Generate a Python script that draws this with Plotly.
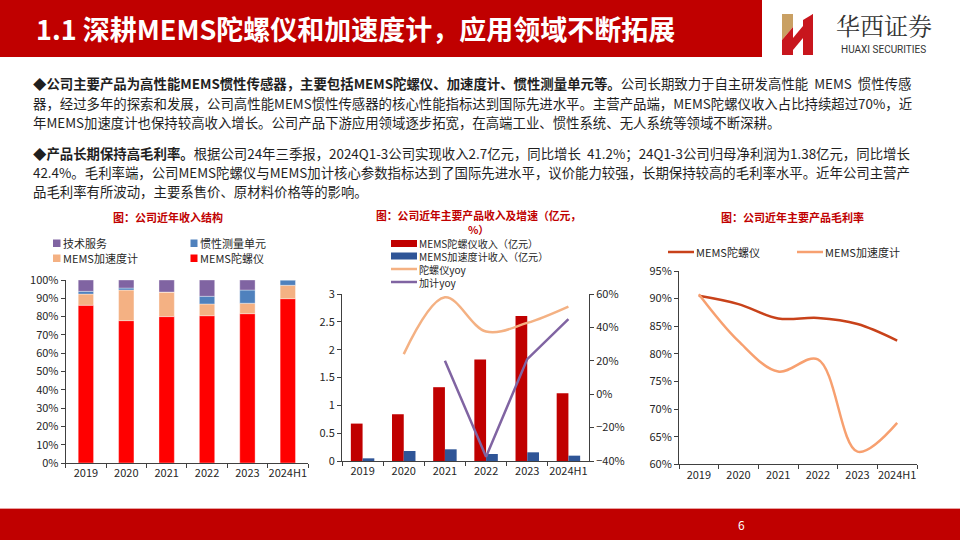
import plotly.graph_objects as go

# ---------------- data ----------------
years = ["2019", "2020", "2021", "2022", "2023", "2024H1"]

# revenue structure (share)
share_gyro = [0.862, 0.778, 0.800, 0.805, 0.816, 0.898]
share_accel = [0.061, 0.167, 0.134, 0.064, 0.057, 0.073]
share_imu = [0.015, 0.011, 0.000, 0.042, 0.072, 0.029]
share_tech = [0.062, 0.044, 0.066, 0.089, 0.055, 0.000]

# revenue (亿元) and yoy
rev_gyro = [0.672, 0.84, 1.326, 1.824, 2.604, 1.218]
rev_accel = [0.048, 0.18, 0.21, 0.126, 0.156, 0.096]
yoy_gyro = [None, 0.24, 0.58, 0.375, 0.427, 0.525]
yoy_accel = [None, None, 0.20, -0.374, 0.21, 0.45]

# gross margin
gm_gyro = [0.905, 0.890, 0.864, 0.865, 0.854, 0.824]
gm_accel = [0.908, 0.823, 0.768, 0.790, 0.623, 0.675]

# ---------------- helpers ----------------
W, H = 960, 540
def X(px):
    return px / W
def Y(py):
    return 1 - py / H

FONT = "Noto Sans CJK SC, Noto Sans, sans-serif"
TXT = "#262626"
AX = "#404040"
DARKRED = "#C00000"

C_TECH, C_IMU, C_ACC, C_GYR = "#8064A2", "#4F81BD", "#F4B183", "#FF0000"
C_BAR_G, C_BAR_A = "#C00000", "#2F5597"
C_YOY_G, C_YOY_A = "#F4B183", "#8064A2"
C_GM_G, C_GM_A = "#C8421A", "#F7A070"

fig = go.Figure()

# ---------------- left chart: stacked share ----------------
base_accel = share_gyro
base_imu = [a + b for a, b in zip(share_gyro, share_accel)]
base_tech = [a + b for a, b in zip(base_imu, share_imu)]
for name, vals, base, col in [
    ("MEMS陀螺仪", share_gyro, [0] * 6, C_GYR),
    ("MEMS加速度计", share_accel, base_accel, C_ACC),
    ("惯性测量单元", share_imu, base_imu, C_IMU),
    ("技术服务", share_tech, base_tech, C_TECH),
]:
    fig.add_trace(go.Bar(x=years, y=vals, base=base, name=name, marker_color=col,
                         marker_line=dict(width=0.6, color="rgba(255,255,255,0.6)"),
                         width=0.38, xaxis="x", yaxis="y"))

# ---------------- middle chart ----------------
fig.add_trace(go.Bar(x=years, y=rev_gyro, name="MEMS陀螺仪收入（亿元）", marker_color=C_BAR_G,
                     width=0.285, offset=-0.285, xaxis="x2", yaxis="y2"))
fig.add_trace(go.Bar(x=years, y=rev_accel, name="MEMS加速度计收入（亿元）", marker_color=C_BAR_A,
                     width=0.285, offset=0.0, xaxis="x2", yaxis="y2"))
fig.add_trace(go.Scatter(x=years, y=yoy_gyro, name="陀螺仪yoy", mode="lines",
                         line=dict(color=C_YOY_G, width=2.5, shape="spline", smoothing=1.0),
                         xaxis="x2", yaxis="y3"))
fig.add_trace(go.Scatter(x=years, y=yoy_accel, name="加计yoy", mode="lines",
                         line=dict(color=C_YOY_A, width=2.5),
                         xaxis="x2", yaxis="y3"))

# ---------------- right chart ----------------
fig.add_trace(go.Scatter(x=years, y=gm_gyro, name="MEMS陀螺仪", mode="lines",
                         line=dict(color=C_GM_G, width=2.5, shape="spline", smoothing=1.0),
                         xaxis="x3", yaxis="y4"))
fig.add_trace(go.Scatter(x=years, y=gm_accel, name="MEMS加速度计", mode="lines",
                         line=dict(color=C_GM_A, width=2.5, shape="spline", smoothing=1.0),
                         xaxis="x3", yaxis="y4"))

tick_font = dict(family=FONT, size=11, color=TXT)
xcommon = dict(type="category", range=[-0.5, len(years) - 0.5], showline=True, linecolor=AX,
               linewidth=1, ticks="outside", tickson="boundaries", ticklen=4, tickcolor=AX,
               showgrid=False, zeroline=False, tickfont=tick_font, fixedrange=True, tickangle=0,
               automargin=False)
ycommon = dict(showline=True, linecolor=AX, linewidth=1, ticks="outside", ticklen=4,
               tickcolor=AX, showgrid=False, zeroline=False, tickfont=tick_font, fixedrange=True,
               automargin=False)

fig.update_layout(
    template="none",
    width=W, height=H, margin=dict(l=0, r=0, t=0, b=0, pad=0, autoexpand=False),
    paper_bgcolor="white", plot_bgcolor="rgba(0,0,0,0)",
    showlegend=False, barmode="overlay", font=dict(family=FONT, color=TXT),
    xaxis=dict(domain=[X(65.7), X(308)], anchor="y", **xcommon),
    yaxis=dict(domain=[Y(463), Y(280)], anchor="x", range=[0, 1], dtick=0.1,
               tickformat=".0%", **ycommon),
    xaxis2=dict(domain=[X(342), X(589)], anchor="y2", **xcommon),
    yaxis2=dict(domain=[Y(461), Y(294)], anchor="x2", range=[0, 3], dtick=0.5, **ycommon),
    yaxis3=dict(overlaying="y2", side="right", anchor="x2", range=[-0.4, 0.6], dtick=0.2,
                tickformat=".0%", **ycommon),
    xaxis3=dict(domain=[X(679), X(917)], anchor="y4", **xcommon),
    yaxis4=dict(domain=[Y(464.3), Y(271)], anchor="x3", range=[0.60, 0.95], dtick=0.05,
                tickformat=".0%", **ycommon),
)

shapes = []
ann = []

# header
shapes.append(dict(type="rect", xref="paper", yref="paper", x0=X(0), x1=X(762), y0=Y(57), y1=Y(0),
                   fillcolor=DARKRED, line_width=0, layer="below"))
ann.append(dict(text="<b>1.1 深耕MEMS陀螺仪和加速度计，应用领域不断拓展</b>", x=X(34), y=Y(29),
                xanchor="left", yanchor="middle", align="left",
                font=dict(family=FONT, size=27, color="white")))

# logo
def path(pts):
    return "M " + " L ".join(f"{X(a):.5f},{Y(b):.5f}" for a, b in pts) + " Z"
shapes.append(dict(type="path", xref="paper", yref="paper", path=path([(782, 14), (793, 14), (793, 27), (782, 40)]),
                   fillcolor="#C9A063", line_width=0))
shapes.append(dict(type="path", xref="paper", yref="paper", path=path([(782, 40), (793, 27), (793, 55), (782, 55)]),
                   fillcolor="#C8161D", line_width=0))
shapes.append(dict(type="path", xref="paper", yref="paper", path=path([(793, 38), (813, 14), (813, 26), (793, 50)]),
                   fillcolor="#C8161D", line_width=0))
shapes.append(dict(type="path", xref="paper", yref="paper", path=path([(803, 20), (813, 14), (813, 55), (803, 55)]),
                   fillcolor="#C8161D", line_width=0))
ann.append(dict(text="华西证券", x=X(884), y=Y(25), xanchor="center", yanchor="middle",
                font=dict(family="Noto Serif CJK SC, Noto Sans CJK SC, serif", size=24, color="#333333")))
ann.append(dict(text="HUAXI SECURITIES", x=X(883), y=Y(49), xanchor="center", yanchor="middle",
                font=dict(family="Liberation Sans Narrow, Roboto, sans-serif", size=10, color="#333333")))

# body text
body = [
    (83, "<b>◆公司主要产品为高性能MEMS惯性传感器，主要包括MEMS陀螺仪、加速度计、惯性测量单元等。</b>公司长期致力于自主研发高性能  MEMS  惯性传感"),
    (103, "器，经过多年的探索和发展，公司高性能MEMS惯性传感器的核心性能指标达到国际先进水平。主营产品端，MEMS陀螺仪收入占比持续超过70%，近"),
    (122, "年MEMS加速度计也保持较高收入增长。公司产品下游应用领域逐步拓宽，在高端工业、惯性系统、无人系统等领域不断深耕。"),
    (153, "<b>◆产品长期保持高毛利率。</b>根据公司24年三季报，2024Q1-3公司实现收入2.7亿元，同比增长  41.2%；24Q1-3公司归母净利润为1.38亿元，同比增长"),
    (172, "42.4%。毛利率端，公司MEMS陀螺仪与MEMS加计核心参数指标达到了国际先进水平，议价能力较强，长期保持较高的毛利率水平。近年公司主营产"),
    (191, "品毛利率有所波动，主要系售价、原材料价格等的影响。"),
]
for py, t in body:
    ann.append(dict(text=t, x=X(31), y=Y(py), xanchor="left", yanchor="middle", align="left",
                    font=dict(family=FONT, size=13.4, color="#1F1F1F")))

# chart titles
tfont = dict(family=FONT, size=11, color=DARKRED)
ann.append(dict(text="<b>图：公司近年收入结构</b>", x=X(168), y=Y(217), xanchor="center", yanchor="middle", font=tfont))
ann.append(dict(text="<b>图：公司近年主要产品收入及增速（亿元，</b><br><b>%）</b>", x=X(478), y=Y(222),
                xanchor="center", yanchor="middle", align="center", borderpad=0,
                font=dict(family=FONT, size=10.8, color=DARKRED)))
ann.append(dict(text="<b>图：公司近年主要产品毛利率</b>", x=X(792), y=Y(217), xanchor="center", yanchor="middle", font=tfont))

def sq(x0, y0, x1, y1, col):
    shapes.append(dict(type="rect", xref="paper", yref="paper", x0=X(x0), x1=X(x1), y0=Y(y1), y1=Y(y0),
                       fillcolor=col, line_width=0))
def ln(x0, x1, y, col):
    shapes.append(dict(type="line", xref="paper", yref="paper", x0=X(x0), x1=X(x1), y0=Y(y), y1=Y(y),
                       line=dict(color=col, width=2.5)))
def lt(x, y, t, size=11):
    ann.append(dict(text=t, x=X(x), y=Y(y), xanchor="left", yanchor="middle", align="left",
                    borderpad=0, font=dict(family=FONT, size=size, color=TXT)))

# left legend
sq(53, 239.5, 60.5, 247, C_TECH); lt(62, 243, "技术服务")
sq(190.5, 239.5, 197.5, 247, C_IMU); lt(199, 243, "惯性测量单元")
sq(53, 254.5, 60.5, 262, C_ACC); lt(62, 258, "MEMS加速度计")
sq(190.5, 254.5, 197.5, 262, C_GYR); lt(199, 258, "MEMS陀螺仪")

# middle legend (one text block, four lines)
sq(391, 240, 417, 247, C_BAR_G)
sq(391, 252.5, 417, 259.5, C_BAR_A)
ln(391, 417, 269, C_YOY_G)
ln(391, 417, 282, C_YOY_A)
lt(418, 263, "MEMS陀螺仪收入（亿元）<br>MEMS加速度计收入（亿元）<br>陀螺仪yoy<br>加计yoy", 10.1)

# right legend
ln(668, 694, 252, C_GM_G); lt(695, 252, "MEMS陀螺仪")
ln(797, 823, 252, C_GM_A); lt(824, 252, "MEMS加速度计")

# footer
shapes.append(dict(type="rect", xref="paper", yref="paper", x0=0, x1=1, y0=Y(540), y1=Y(509),
                   fillcolor=DARKRED, line_width=0, layer="below"))
shapes.append(dict(type="line", xref="paper", yref="paper", x0=0, x1=1, y0=Y(508.5), y1=Y(508.5),
                   line=dict(color="#E8A0A0", width=1)))
ann.append(dict(text="6", x=X(741), y=Y(524), xanchor="center", yanchor="middle",
                font=dict(family=FONT, size=12, color="white")))

for a in ann:
    a.setdefault("xref", "paper")
    a.setdefault("yref", "paper")
    a.setdefault("showarrow", False)
fig.update_layout(shapes=shapes, annotations=ann)

fig.write_html(
    "out.html",
    config={"displayModeBar": False},
    post_script="document.body.style.margin='0';document.body.style.padding='0';"
                "document.documentElement.style.overflow='hidden';",
)
